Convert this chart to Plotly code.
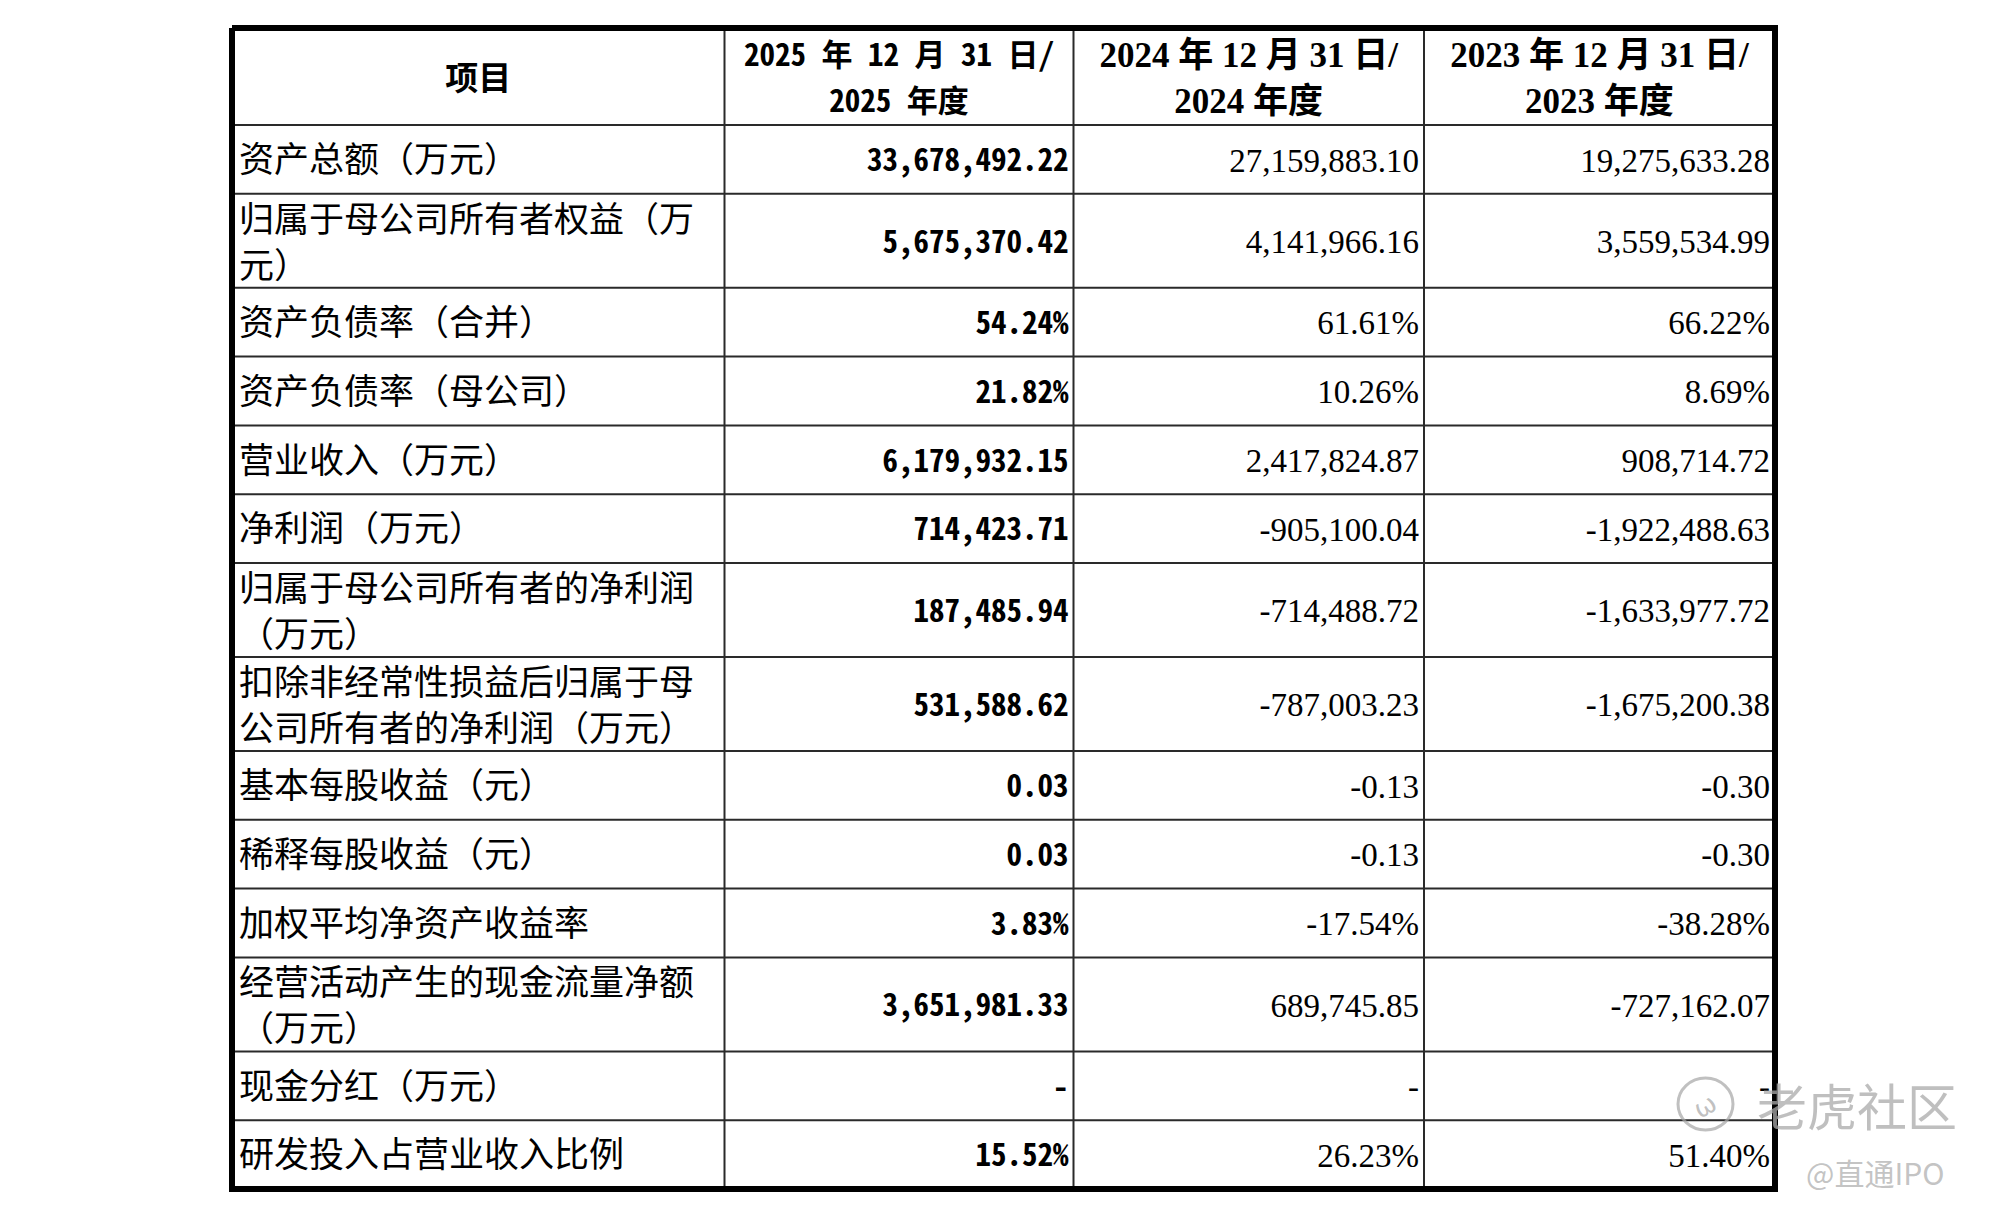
import plotly.graph_objects as go

# ---- table content -------------------------------------------------------
header = [
    "项目",
    "2025 年 12 月 31 日/<br>2025 年度",
    "2024 年 12 月 31 日/<br>2024 年度",
    "2023 年 12 月 31 日/<br>2023 年度",
]

items = [
    "资产总额（万元）",
    "归属于母公司所有者权益（万<br>元）",
    "资产负债率（合并）",
    "资产负债率（母公司）",
    "营业收入（万元）",
    "净利润（万元）",
    "归属于母公司所有者的净利润<br>（万元）",
    "扣除非经常性损益后归属于母<br>公司所有者的净利润（万元）",
    "基本每股收益（元）",
    "稀释每股收益（元）",
    "加权平均净资产收益率",
    "经营活动产生的现金流量净额<br>（万元）",
    "现金分红（万元）",
    "研发投入占营业收入比例",
]

v2025 = [
    "33,678,492.22", "5,675,370.42", "54.24%", "21.82%",
    "6,179,932.15", "714,423.71", "187,485.94", "531,588.62",
    "0.03", "0.03", "3.83%", "3,651,981.33", "-", "15.52%",
]
v2024 = [
    "27,159,883.10", "4,141,966.16", "61.61%", "10.26%",
    "2,417,824.87", "-905,100.04", "-714,488.72", "-787,003.23",
    "-0.13", "-0.13", "-17.54%", "689,745.85", "-", "26.23%",
]
v2023 = [
    "19,275,633.28", "3,559,534.99", "66.22%", "8.69%",
    "908,714.72", "-1,922,488.63", "-1,633,977.72", "-1,675,200.38",
    "-0.30", "-0.30", "-38.28%", "-727,162.07", "-", "51.40%",
]

# ---- geometry (pixel units on a 1996 x 1220 canvas) ----------------------
W, H = 1996, 1220
OFF = 8  # page body margin
LEFT, TOP = 232, 28
COL_W = [492.5, 349, 350.5, 351]
HEADER_H = 97
ROW_H = {1: 68.8, 2: 94}
LINE_GAP = 46
PAD = 5
TEXT_DY = 4  # nudge text down to sit centred like the scan

col_edges = [LEFT]
for w in COL_W:
    col_edges.append(col_edges[-1] + w)

row_edges = [TOP, TOP + HEADER_H]
for lab in items:
    row_edges.append(row_edges[-1] + ROW_H[lab.count("<br>") + 1])

right, bottom = col_edges[-1], row_edges[-1]

CJK = "Noto Sans CJK SC"
MONO = "Noto Sans Mono CJK SC, Noto Sans CJK SC"
SERIF = "Liberation Serif, Noto Sans CJK SC"

fig = go.Figure()

# grid lines
gx, gy = [], []
for y in row_edges[1:-1]:
    gx += [LEFT, right, None]
    gy += [y, y, None]
for x in col_edges[1:-1]:
    gx += [x, x, None]
    gy += [TOP, bottom, None]
fig.add_trace(go.Scatter(x=gx, y=gy, mode="lines",
                         line=dict(color="#2a2a2a", width=2), hoverinfo="skip"))

# thick outer frame
fig.add_trace(go.Scatter(x=[LEFT, right, right, LEFT, LEFT],
                         y=[TOP, TOP, bottom, bottom, TOP], mode="lines",
                         line=dict(color="#000", width=6), hoverinfo="skip"))


def split_lines(text, y_center, shift=0):
    parts = text.split("<br>")
    n = len(parts)
    ys = [y_center + TEXT_DY + shift + (i - (n - 1) / 2) * LINE_GAP for i in range(n)]
    return parts, ys


def add_text(xs, ys, texts, pos, family, size, weight="normal"):
    fig.add_trace(go.Scatter(
        x=xs, y=ys, text=texts, mode="text", textposition=pos,
        textfont=dict(family=family, size=size, color="#000", weight=weight),
        hoverinfo="skip",
    ))


# header row
hc = (row_edges[0] + row_edges[1]) / 2
head_fonts = [(CJK, 33, "bold"), (MONO, 31, "bold"), (SERIF, 35, "bold"), (SERIF, 35, "bold")]
for j, text in enumerate(header):
    xc = (col_edges[j] + col_edges[j + 1]) / 2
    parts, ys = split_lines(text, hc, shift=1)
    fam, size, wt = head_fonts[j]
    add_text([xc] * len(parts), ys, parts, "middle center", fam, size, wt)

# item labels (left column)
lx, ly, lt = [], [], []
for i, lab in enumerate(items):
    yc = (row_edges[i + 1] + row_edges[i + 2]) / 2
    parts, ys = split_lines(lab, yc, shift=1 if "<br>" in lab else 0)
    lx += [LEFT + 7] * len(parts)
    ly += ys
    lt += parts
add_text(lx, ly, lt, "middle right", CJK, 35)

# value columns
centers = [(row_edges[i + 1] + row_edges[i + 2]) / 2 + TEXT_DY for i in range(len(items))]
add_text([col_edges[2] - PAD] * len(v2025), centers, v2025, "middle left", MONO, 31, "bold")
add_text([col_edges[3] - PAD] * len(v2024), centers, v2024, "middle left", SERIF, 33)
add_text([col_edges[4] - PAD] * len(v2023), centers, v2023, "middle left", SERIF, 33)

# watermark
fig.add_shape(type="circle", xref="x", yref="y", x0=1678, x1=1733, y0=1078, y1=1130,
              line=dict(color="rgba(165,165,165,0.7)", width=3))
fig.add_annotation(x=1705, y=1106, xref="x", yref="y", text="ω", showarrow=False,
                   textangle=-30,
                   font=dict(family="DejaVu Sans", size=26, color="rgba(165,165,165,0.7)"))
fig.add_annotation(x=1857, y=1104, xref="x", yref="y", text="老虎社区", showarrow=False,
                   font=dict(family=CJK, size=50, color="rgba(170,170,170,0.75)"))
fig.add_annotation(x=1875, y=1172, xref="x", yref="y", text="@直通IPO", showarrow=False,
                   font=dict(family=CJK, size=30, color="rgba(180,180,180,0.8)"))

fig.update_layout(
    width=W, height=H,
    margin=dict(l=0, r=0, t=0, b=0),
    paper_bgcolor="white", plot_bgcolor="white",
    showlegend=False,
    xaxis=dict(range=[OFF, W + OFF], visible=False, fixedrange=True),
    yaxis=dict(range=[H + OFF, OFF], visible=False, fixedrange=True),
)

fig.write_html("out.html")
